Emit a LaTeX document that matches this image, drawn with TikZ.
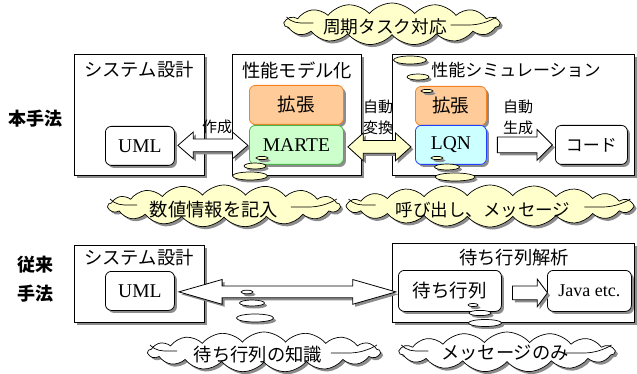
\documentclass[tikz,border=0pt]{standalone}
\usepackage{fontspec}
\setmainfont{Liberation Serif}
\newfontfamily\jp{Noto Sans CJK JP}
\usetikzlibrary{shapes.symbols,shapes.arrows,shadows,calc}
\definecolor{cloudy}{HTML}{FFFFCC}
\definecolor{orfill}{HTML}{FFCC99}
\definecolor{ordraw}{HTML}{F58220}
\definecolor{grfill}{HTML}{CCFFCC}
\definecolor{grdraw}{HTML}{4CB34C}
\definecolor{blfill}{HTML}{CCFFFF}
\definecolor{bldraw}{HTML}{2040FF}
\definecolor{shad}{HTML}{8C8C8C}
\tikzset{
  shadowed/.style={drop shadow={shadow xshift=2.5pt,shadow yshift=-2.5pt,fill=shad,opacity=1}},
  frame/.style={draw=black,line width=0.8pt,fill=white,shadowed,anchor=north west,inner sep=0pt},
  rbox/.style={draw=black,line width=0.8pt,fill=white,rounded corners=6pt,shadowed,anchor=north west,inner sep=0pt},
  jtitle/.style={font=\jp\fontsize{18.3}{19}\selectfont,inner sep=0pt},
  jlab/.style={font=\jp\fontsize{15}{16}\selectfont,inner sep=0pt},
  jbig/.style={font=\jp\fontsize{18.5}{20}\selectfont},
  jbold/.style={font=\jp\bfseries\fontsize{18}{19}\selectfont,inner sep=0pt},
  serif/.style={font=\fontsize{19.5}{20}\selectfont},
  cloudnode/.style={cloud,cloud puff arc=100,cloud ignores aspect,draw=black,line width=0.7pt,shadowed,inner sep=0pt},
  ctext/.style={font=\jp\fontsize{18.3}{19}\selectfont,inner sep=0pt},
  tailbub/.style={draw=black,line width=0.7pt,shadowed},
  hook/.style={draw=black,line width=0.7pt},
  darrow/.style={double arrow,draw=black,line width=0.8pt,shadowed,inner xsep=0pt},
  sarrow/.style={single arrow,draw=black,line width=0.8pt,shadowed,inner xsep=0pt}
}
\begin{document}
\begin{tikzpicture}[x=1pt,y=-1pt]
\useasboundingbox (0,0) rectangle (637,374);
% frames
\node[frame,minimum width=130pt,minimum height=121pt] (f1) at (74,54) {};
\node[frame,minimum width=129pt,minimum height=121pt] (f2) at (232,54) {};
\node[frame,minimum width=242pt,minimum height=121pt] (f3) at (392,54) {};
\node[frame,minimum width=130pt,minimum height=77pt] (f4) at (74,245) {};
\node[frame,minimum width=242pt,minimum height=79pt] (f5) at (392,243) {};
% titles
\node[jtitle] (t1) at (139,70) {システム設計};
\node[jtitle] (t2) at (297,70) {性能モデル化};
\node[jtitle,font=\jp\fontsize{17}{18}\selectfont] (t3) at (516,70) {性能シミュレーション};
\node[jtitle] (t4) at (139,258) {システム設計};
\node[jtitle] (t5) at (514,258) {待ち行列解析};
% side labels
\node[jbold] (m1) at (36,119) {本手法};
\node[jbold] (m2) at (35,265) {従来};
\node[jbold] (m3) at (35,294) {手法};
% inner boxes top
\node[rbox,minimum width=69pt,minimum height=39pt] (uml1) at (105,126) {};
\node[serif] at (uml1.center) {UML};
\node[rbox,draw=ordraw,fill=orfill,minimum width=94pt,minimum height=39pt] (ext1) at (249,85) {};
\node[jbig] at (ext1.center) {拡張};
\node[rbox,draw=grdraw,fill=grfill,minimum width=94pt,minimum height=39pt] (marte) at (249,125) {};
\node[serif] at (marte.center) {MARTE};
\node[rbox,draw=ordraw,fill=orfill,minimum width=71pt,minimum height=39pt] (ext2) at (415,86) {};
\node[jbig] at (ext2.center) {拡張};
\node[rbox,draw=bldraw,fill=blfill,minimum width=71pt,minimum height=39pt] (lqn) at (415,125) {};
\node[serif] at (lqn.center) {LQN};
\node[rbox,minimum width=72pt,minimum height=39pt] (code) at (555,125) {};
\node[jtitle,font=\jp\fontsize{17}{18}\selectfont] at (code.center) {コード};
% inner boxes bottom
\node[rbox,minimum width=69pt,minimum height=39pt] (uml2) at (105,271) {};
\node[serif] at (uml2.center) {UML};
\node[rbox,minimum width=103pt,minimum height=41pt] (wq) at (398,270) {};
\node[jbig] at (wq.center) {待ち行列};
\node[rbox,minimum width=84pt,minimum height=41pt] (java) at (547,270) {};
\node[font=\fontsize{18}{19}\selectfont] at (java.center) {Java etc.};
% arrows
\node[darrow,fill=white,inner ysep=6pt,minimum height=70pt,double arrow head extend=7pt,double arrow tip angle=82]
  (a1) at ($(uml1.east)!.5!(marte.west)+(1,0)$) {};
\node[darrow,fill=cloudy,inner ysep=6pt,minimum height=63pt,double arrow head extend=7.5pt,double arrow tip angle=84]
  (a2) at ($(marte.east)!.5!(lqn.west)+(0,2)$) {};
\node[sarrow,fill=white,inner ysep=7.5pt,minimum height=55pt,single arrow head extend=7.5pt,single arrow tip angle=90]
  (a3) at ($(lqn.east)!.5!(code.west)$) {};
\node[darrow,fill=white,inner ysep=5.5pt,minimum height=217pt,double arrow head extend=6.5pt,double arrow tip angle=32]
  (a4) at ($(uml2.east)!.5!(wq.west)+(1,1)$) {};
\node[sarrow,fill=white,inner ysep=6.5pt,minimum height=35pt,single arrow head extend=7pt,single arrow tip angle=107]
  (a5) at ($(wq.east)!.5!(java.west)+(3,2)$) {};
% arrow labels
\node[jlab] (l1) at (217,127) {作成};
\node[jlab] (l2) at (378,107) {自動};
\node[jlab] (l3) at (378,128) {変換};
\node[jlab] (l4) at (518,107) {自動};
\node[jlab] (l5) at (518,128) {生成};
% tail bubbles
\draw[tailbub,fill=cloudy] (410,60) ellipse (16.5 and 4);
\draw[tailbub,fill=cloudy] (418,77) ellipse (11 and 3);
\draw[tailbub,fill=cloudy] (427,91) ellipse (6 and 1.6);
\draw[tailbub,fill=cloudy] (250,176) ellipse (17.5 and 4);
\draw[tailbub,fill=cloudy] (255,166) ellipse (11 and 3);
\draw[tailbub,fill=cloudy] (262,158) ellipse (6 and 1.6);
\draw[tailbub,fill=cloudy] (455,177) ellipse (20 and 4);
\draw[tailbub,fill=cloudy] (447,167) ellipse (12.5 and 3);
\draw[tailbub,fill=cloudy] (437,158) ellipse (6 and 1.6);
\draw[tailbub,fill=white] (255,318) ellipse (18.5 and 4);
\draw[tailbub,fill=white] (252,303) ellipse (12.5 and 3);
\draw[tailbub,fill=white] (247,292) ellipse (6 and 1.8);
\draw[tailbub,fill=white] (485,323) ellipse (16.5 and 3.5);
\draw[tailbub,fill=white] (480,313) ellipse (11 and 2.6);
\draw[tailbub,fill=white] (473,305) ellipse (5 and 1.6);
% clouds
\node[cloudnode,cloud puffs=15,fill=cloudy,minimum width=215pt,minimum height=42pt] (c1) at (392,24) {};
\node[cloudnode,cloud puffs=17,fill=cloudy,minimum width=232pt,minimum height=42pt] (c2) at (224,206) {};
\node[cloudnode,cloud puffs=20,fill=cloudy,minimum width=288pt,minimum height=42pt] (c3) at (490,206) {};
\node[cloudnode,cloud puffs=17,fill=white,minimum width=232pt,minimum height=40pt] (c4) at (264,352) {};
\node[cloudnode,cloud puffs=15,fill=white,minimum width=215pt,minimum height=40pt] (c5) at (507,352) {};
\node[ctext,font=\jp\fontsize{17.7}{19}\selectfont] at (385,27) {周期タスク対応};
\node[ctext] at (214,210) {数値情報を記入};
\node[ctext,font=\jp\fontsize{17.5}{19}\selectfont] at (483,210) {呼び出し、メッセージ};
\node[ctext] at (258,355) {待ち行列の知識};
\node[ctext] at (505,353) {メッセージのみ};
% hooks
\foreach \c in {c1,c2,c3,c4,c5}{
  \draw[hook] ($(\c.west)+(3,-7)$) .. controls +(6,6) and +(-8,0) .. ($(\c.west)+(22,-1)$) -- ($(\c.west)+(30,-1)$);
  \draw[hook] ($(\c.east)+(-50,1)$) -- ($(\c.east)+(-32,1)$) .. controls +(10,0) and +(-8,5) .. ($(\c.east)+(-4,-7)$);
}
\end{tikzpicture}
\end{document}
